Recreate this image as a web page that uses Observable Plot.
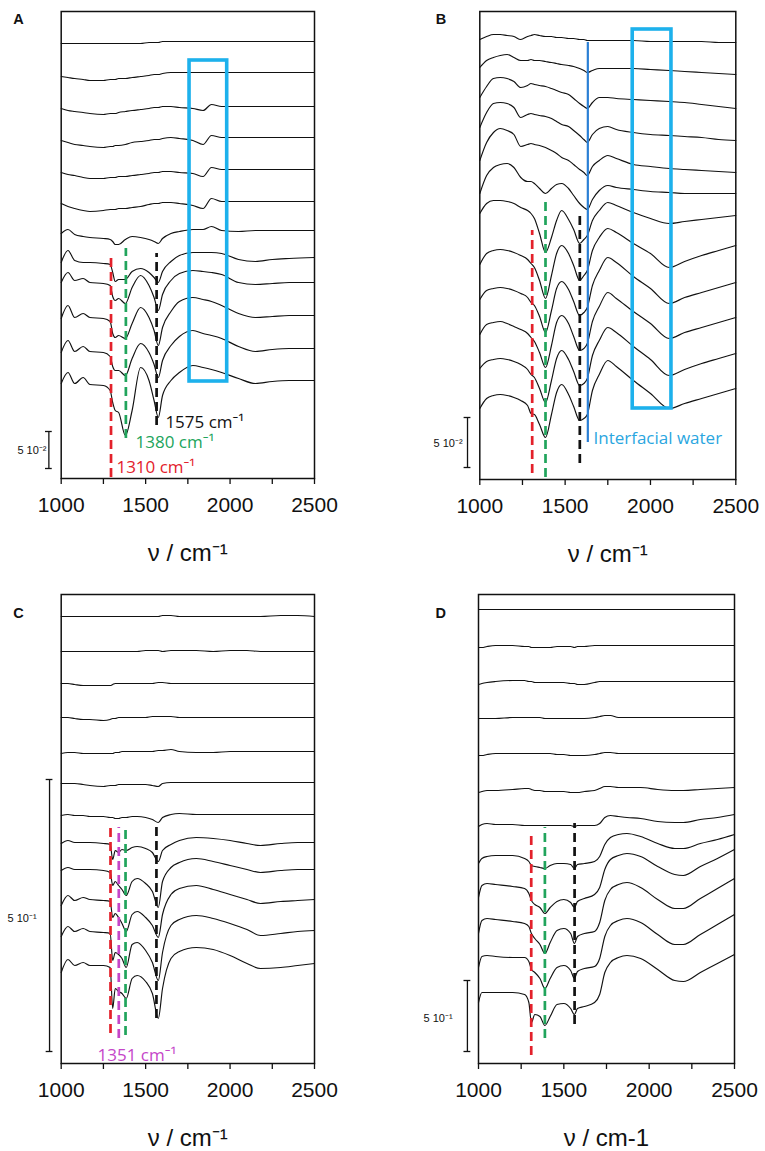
<!DOCTYPE html>
<html><head><meta charset="utf-8">
<script src="https://cdn.jsdelivr.net/npm/d3@7"></script>
<script src="https://cdn.jsdelivr.net/npm/@observablehq/plot@0.6"></script>
<style>
body{margin:0;background:#fff;}
#chart{position:relative;width:765px;height:1151px;overflow:hidden;background:#fff;}
#chart svg{position:absolute;}
</style></head><body><div id="chart"></div>
<script>
// ---------- DATA (offset-stacked spectra, arbitrary absorbance units) ----------
const majorTicks = [1000, 1500, 2000, 2500];
const minorTicks = [1250, 1750, 2250];

// Panel A
const wnA = [1000,1040,1080,1130,1170,1250,1290,1305,1320,1340,1380,1420,1470,1520,1550,1575,1600,1650,1700,1780,1840,1890,1950,2050,2150,2250,2350,2500];
const offsetsA = [437,406,372,341,309,277,248,221,196,163,130,98];
const deltasA = [
 [-2,-2,-2,-2,-2,-2,-2,-2,-2,-2,-2,-2,-2,-1,-1,-1,0,0,0,0,0,0,0,0,0,0,0,0],
 [-4,-5,-6,-7,-8,-8,-7,-7,-7,-6,-6,-5,-4,-3,-2,-2,-1,0,0,0,0,0,0,0,0,0,0,0],
 [-2,-4,-5,-6,-7,-8,-7,-7,-7,-6,-5,-4,-3,-2,-1,-1,0,0,-1,-2,-4,2,0,0,0,0,0,0],
 [-3,-5,-7,-8,-9,-10,-9,-9,-8,-8,-7,-5,-4,-3,-2,-2,-1,0,-1,-3,-7,2,0,0,0,0,0,0],
 [-3,-5,-6,-8,-9,-9,-8,-8,-8,-7,-7,-6,-5,-4,-3,-3,-2,-2,-3,-4,-7,2,0,0,0,0,0,0],
 [-2,-5,-7,-9,-10,-9,-8,-8,-8,-7,-7,-6,-5,-3,-2,-2,-1,-1,-2,-4,-7,3,0,0,0,0,0,0],
 [-3,1,-4,-6,-7,-8,-9,-11,-14,-14,-9,-6,-7,-9,-11,-13,-8,-3,-1,1,1,4,0,-1,0,0,0,0],
 [-5,7,-3,-5,-5,-6,-7,-15,-24,-22,-22,-14,-11,-15,-20,-25,-14,-4,2,5,5,5,4,-2,-4,-2,-1,0],
 [0,10,2,4,0,-1,-3,-14,-18,-16,-21,-5,7,-3,-15,-28,-12,2,9,12,11,10,8,0,-2,-1,0,0],
 [-3,10,-2,2,-2,-3,-6,-18,-22,-20,-23,-8,8,-2,-15,-30,-12,4,14,18,16,14,10,2,-2,-1,0,0],
 [-4,8,-3,2,-3,-4,-8,-18,-22,-22,-27,-10,5,-4,-16,-29,-12,3,12,18,15,13,10,2,-3,-1,0,0],
 [-3,8,-3,3,-4,-5,-10,-22,-30,-32,-55,-30,13,0,-20,-37,-15,0,8,15,13,11,8,2,-3,-1,0,0]
];

// Panel B
const wnB = [1000,1040,1080,1120,1160,1200,1240,1280,1300,1320,1350,1385,1420,1450,1480,1520,1550,1585,1610,1630,1660,1700,1750,1800,1900,2000,2110,2200,2300,2400,2500];
const offsetsB = [437,405,371,339,307,286,264,234,197,162,126,91];
const deltasB = [
 [3,6,8,8,7,6,3,6,7,8,7,6,6,5,5,4,4,3,3,2,2,2,2,2,2,1,1,1,1,0,0],
 [7,14,17,19,20,17,14,14,15,14,14,13,12,11,10,9,8,6,4,2,4,6,6,6,6,5,4,3,2,1,0],
 [11,22,30,31,30,27,21,23,25,24,23,22,20,18,16,14,10,5,2,0,6,11,11,10,9,8,7,6,4,2,0],
 [13,28,37,38,37,33,23,26,27,26,25,24,22,19,16,14,10,5,1,-2,6,12,14,11,8,6,5,4,3,1,0],
 [12,30,40,44,42,38,26,28,29,28,27,25,22,19,15,12,8,3,0,-3,6,12,17,14,8,6,4,3,2,1,0],
 [0,18,26,29,30,26,16,12,12,10,5,0,5,9,10,5,-2,-10,-14,-16,-6,3,8,6,4,2,1,0,0,0,0],
 [2,12,15,15,14,12,8,5,2,-3,-18,-37,-22,-5,5,-4,-14,-28,-24,-20,-5,5,13,10,3,-3,-8,-6,-4,-2,0],
 [-19,-8,-5,-4,-5,-7,-10,-14,-18,-22,-35,-53,-30,-8,0,-8,-20,-35,-30,-25,-5,8,17,13,2,-8,-22,-16,-10,-5,0],
 [-17,-8,-6,-5,-6,-8,-11,-15,-20,-23,-34,-50,-28,-6,1,-7,-19,-33,-30,-25,-3,12,25,20,6,-6,-21,-15,-10,-5,0],
 [-17,-7,-5,-4,-6,-9,-12,-16,-20,-24,-35,-50,-28,-5,2,-6,-19,-33,-31,-26,-4,11,25,19,6,-6,-21,-15,-10,-5,0],
 [-15,-8,-6,-5,-6,-8,-11,-16,-21,-24,-35,-49,-27,-5,3,-6,-18,-32,-30,-25,-2,13,26,21,7,-6,-22,-16,-10,-5,0],
 [-20,-10,-7,-6,-7,-9,-12,-17,-25,-26,-36,-49,-26,-4,4,-6,-18,-32,-30,-26,-2,14,28,22,8,-5,-20,-15,-10,-5,0]
];

// Panel C
const wnC = [1000,1040,1080,1130,1170,1250,1290,1305,1320,1340,1360,1385,1420,1450,1500,1540,1575,1600,1650,1700,1800,1900,2000,2100,2180,2300,2400,2500];
const offsetsC = [447,412,380,346,312,281,249,221,194,164,133,100];
const deltasC = [
 [0,0,0,0,0,0,0,0,0,0,0,0,0,0,0,0,0,1,1,0,0,0,0,0,0,1,1,0],
 [0,0,0,0,0,0,0,0,0,0,0,0,0,0,1,1,1,0,1,1,1,0,1,1,0,0,0,0],
 [0,0,-1,-2,-2,-2,-2,-1,0,0,0,0,0,0,0,0,1,1,0,0,0,0,0,0,0,0,0,0],
 [0,0,-1,-2,-2,-3,-2,-1,-1,0,0,0,0,0,0,1,1,1,1,0,0,0,0,0,0,0,0,0],
 [-2,-1,-1,-2,-2,-2,-2,-2,-1,-1,0,0,0,0,0,0,1,1,2,0,-1,-1,0,0,0,0,0,0],
 [-1,-1,-1,-2,-3,-4,-3,-3,-3,-2,-2,-2,-2,-2,-2,-3,-4,-1,0,0,0,0,0,0,0,0,0,0],
 [-1,0,-1,-1,-2,-2,-3,-3,-4,-4,-3,-3,-2,-2,-3,-5,-8,-3,0,1,0,0,0,0,0,0,0,0],
 [-1,2,0,0,0,-1,-2,-17,-8,-10,-7,-8,-5,-4,-6,-10,-19,-8,-2,2,5,4,2,-1,-3,-1,0,0],
 [-1,2,0,0,0,-1,-3,-16,-12,-16,-20,-26,-12,-9,-14,-22,-38,-12,2,7,11,8,4,0,-3,-1,0,0],
 [-6,4,-1,2,0,-1,-2,-18,-14,-18,-24,-32,-15,-12,-18,-26,-38,-15,5,11,14,10,5,0,-4,-2,-1,0],
 [-6,4,-1,2,-1,-2,-3,-30,-22,-24,-28,-37,-14,-12,-20,-32,-50,-22,5,11,15,12,7,1,-5,-3,-1,0],
 [-9,4,-2,1,-2,-2,-4,-45,-25,-28,-30,-35,-15,-12,-18,-30,-55,-25,5,12,16,14,8,0,-5,-4,-2,0]
];

// Panel D
const wnD = [1000,1020,1050,1100,1200,1270,1295,1310,1330,1360,1389,1420,1460,1500,1540,1562,1580,1620,1680,1710,1740,1773,1820,1870,1950,2050,2150,2200,2300,2400,2500];
const offsetsD = [454,418,382,346,310,276,249,229,214,185,149,109];
const deltasD = [
 [0,0,0,0,0,0,0,0,0,0,0,0,0,0,0,0,0,0,0,0,0,0,0,0,0,0,0,0,0,0,0],
 [-2,-2,-1,0,0,-1,-1,-2,-2,-2,-2,-2,-1,-1,-1,-2,-1,-1,0,0,0,0,0,0,0,0,0,0,0,0,0],
 [-3,-2,-1,0,1,1,0,0,-1,-1,-1,-1,-1,-1,-2,-2,-3,-3,-1,0,0,0,0,0,0,0,0,0,0,0,0],
 [-1,-1,-1,-1,0,0,0,0,0,0,-1,-1,-1,-1,-1,-1,-1,-1,0,1,2,2,0,0,0,0,0,0,0,0,0],
 [-2,-2,-1,0,0,0,0,0,0,0,0,0,-1,-1,-2,-2,-2,-2,-1,0,1,1,0,0,0,0,0,0,0,0,0],
 [-5,-4,-3,-3,-2,-1,-1,-2,-3,-3,-4,-4,-4,-4,-5,-5,-5,-4,-3,-1,1,1,0,0,0,-2,-3,-3,-2,-1,0],
 [-12,-10,-9,-10,-10,-11,-11,-11,-11,-11,-11,-11,-11,-11,-11,-12,-11,-11,-11,-9,-3,-1,-2,-3,-4,-7,-8,-8,-5,-3,0],
 [-29,-24,-22,-21,-21,-24,-27,-31,-32,-33,-34,-31,-29,-29,-30,-34,-30,-29,-27,-22,-10,-3,0,1,-2,-9,-14,-14,-9,-5,0],
 [-48,-36,-34,-35,-37,-39,-44,-51,-55,-58,-64,-58,-52,-50,-53,-58,-52,-49,-45,-38,-20,-10,-6,-4,-7,-17,-25,-26,-17,-9,0],
 [-55,-42,-40,-41,-43,-45,-48,-55,-60,-66,-75,-64,-52,-50,-55,-65,-58,-55,-53,-44,-22,-11,-6,-4,-9,-21,-30,-30,-20,-10,0],
 [-53,-42,-41,-42,-43,-43,-47,-55,-58,-64,-74,-64,-53,-51,-56,-64,-57,-54,-52,-44,-22,-11,-6,-4,-8,-20,-30,-30,-20,-10,0],
 [-48,-38,-38,-38,-38,-40,-48,-68,-60,-62,-71,-62,-50,-49,-54,-60,-54,-52,-48,-40,-18,-8,-3,-1,-4,-15,-26,-27,-18,-9,0]
];

// Marker lines and annotations (wavenumber, vertical extent in the same units)
const red = "#e3212b", green = "#21a45c", magenta = "#c546c9", ink = "#111111";
const boxBlue = "#1db1ec", lineBlue = "#2b7fd4", textBlue = "#2aa6e0";

const dashesA = [{w:1295,y1:1,y2:225,c:red},{w:1383,y1:40,y2:230,c:green},{w:1565,y1:53,y2:225,c:ink}];
const dashesB = [{w:1307,y1:6,y2:249,c:red},{w:1385,y1:2,y2:277,c:green},{w:1586,y1:16,y2:268,c:ink}];
const dashesC = [{w:1292,y1:30,y2:236,c:red},{w:1341,y1:25,y2:236,c:magenta},{w:1381,y1:28,y2:236,c:green},{w:1564,y1:45,y2:236,c:ink}];
const dashesD = [{w:1309,y1:8,y2:231,c:red},{w:1389,y1:25,y2:236,c:green},{w:1563,y1:39,y2:240,c:ink}];

const boxesA = [{x1:1760,x2:1983,y1:97,y2:418}];
const boxesB = [{x1:1896,x2:2123,y1:71,y2:450}];
const solidB = [{w:1633,y1:37,y2:437}];

const notesA = [{w:1617,v:51,t:"1575 cm⁻¹",c:ink},{w:1440,v:31,t:"1380 cm⁻¹",c:green},{w:1327,v:6,t:"1310 cm⁻¹",c:red}];
const notesB = [{w:1666,v:36,t:"Interfacial water",c:textBlue}];
const notesC = [{w:1215,v:3,t:"1351 cm⁻¹",c:magenta}];

const barA = {w:927,y1:10,y2:47,lw:913,lv:28,label:"5 10⁻²"};
const barB = {w:928,y1:12,y2:62,lw:899,lv:36,label:"5 10⁻²"};
const barC = {w:931,y1:12,y2:284,lw:854,lv:145,label:"5 10⁻¹"};
const barD = {w:935,y1:12,y2:83,lw:848,lv:45,label:"5 10⁻¹"};

// ---------- DRAW ----------
const chart = document.getElementById("chart");
const sans = "'Liberation Sans', Arial, sans-serif";

function panel(p){
  const rows = p.offsets.flatMap((o,i)=>p.wn.map((w,j)=>({id:i, w, v:o + p.deltas[i][j]})));
  const bar = p.bar;
  const marks = [
    Plot.line(rows,{x:"w",y:"v",z:"id",stroke:ink,strokeWidth:1.15,curve:"monotone-x"}),
    Plot.rect(p.boxes||[],{x1:"x1",x2:"x2",y1:"y1",y2:"y2",fill:"none",stroke:boxBlue,strokeWidth:3.6}),
    Plot.ruleX(p.solid||[],{x:"w",y1:"y1",y2:"y2",stroke:lineBlue,strokeWidth:2.2}),
    Plot.ruleX(p.dashes,{x:"w",y1:"y1",y2:"y2",stroke:d=>d.c,strokeWidth:2.7,strokeDasharray:"9,5"}),
    Plot.text(p.notes||[],{x:"w",y:"v",text:"t",fill:d=>d.c,textAnchor:"start",lineAnchor:"bottom",fontSize:17,fontFamily:"'Open Sans', 'Noto Sans', sans-serif"}),
    Plot.ruleX([bar],{x:"w",y1:"y1",y2:"y2",stroke:ink,strokeWidth:1.3}),
    Plot.ruleY([bar.y1,bar.y2],{y:d=>d,x1:bar.w-20,x2:bar.w+20,stroke:ink,strokeWidth:1.3}),
    Plot.text([bar],{x:"lw",y:"lv",text:"label",textAnchor:"end",lineAnchor:"middle",fontSize:11,fill:ink}),
    Plot.frame({stroke:ink,strokeWidth:1.5}),
    Plot.axisX({ticks:majorTicks,tickSize:6,tickPadding:13,fontSize:21,label:null,tickFormat:d=>String(d),stroke:ink,strokeWidth:1.3}),
    Plot.axisX({ticks:minorTicks,tickSize:6,label:null,tickFormat:()=>"",stroke:ink,strokeWidth:1.3}),
    Plot.text([p.xLabel],{frameAnchor:"bottom",text:d=>d,dy:82,lineAnchor:"bottom",fontSize:24,fill:ink}),
    Plot.text([p.letter],{frameAnchor:"top-left",text:d=>d,dx:p.ldx,dy:p.ldy,textAnchor:"start",lineAnchor:"bottom",fontSize:14.5,fontWeight:"bold",fill:ink})
  ];
  const svg = Plot.plot({
    width:p.width,height:p.height,
    marginLeft:p.mL,marginRight:p.mR,marginTop:p.mT,marginBottom:p.mB,
    x:{domain:[1000,2500]},
    y:{domain:[0,p.H],axis:null},
    color:{type:"identity"},
    style:{fontFamily:sans,background:"transparent",color:ink,overflow:"visible"},
    marks
  });
  svg.style.left = p.left+"px";
  svg.style.top = p.top+"px";
  chart.appendChild(svg);
}

panel({wn:wnA,offsets:offsetsA,deltas:deltasA,H:467,left:0,top:0,width:380,height:575,mL:60.7,mR:66,mT:11,mB:97,
  dashes:dashesA,boxes:boxesA,notes:notesA,bar:barA,xLabel:"ν / cm⁻¹",letter:"A",ldx:-48,ldy:12});
panel({wn:wnB,offsets:offsetsB,deltas:deltasB,H:468,left:380,top:0,width:385,height:575,mL:99.3,mR:29.7,mT:11,mB:96,
  dashes:dashesB,boxes:boxesB,solid:solidB,notes:notesB,bar:barB,xLabel:"ν / cm⁻¹",letter:"B",ldx:-44,ldy:12});
panel({wn:wnC,offsets:offsetsC,deltas:deltasC,H:469,left:0,top:575,width:380,height:576,mL:60.7,mR:66,mT:19,mB:88,
  dashes:dashesC,notes:notesC,bar:barC,xLabel:"ν / cm⁻¹",letter:"C",ldx:-48,ldy:23});
panel({wn:wnD,offsets:offsetsD,deltas:deltasD,H:469,left:380,top:575,width:385,height:576,mL:98,mR:31,mT:19,mB:88,
  dashes:dashesD,bar:barD,xLabel:"ν / cm-1",letter:"D",ldx:-43,ldy:23});
</script></body></html>
